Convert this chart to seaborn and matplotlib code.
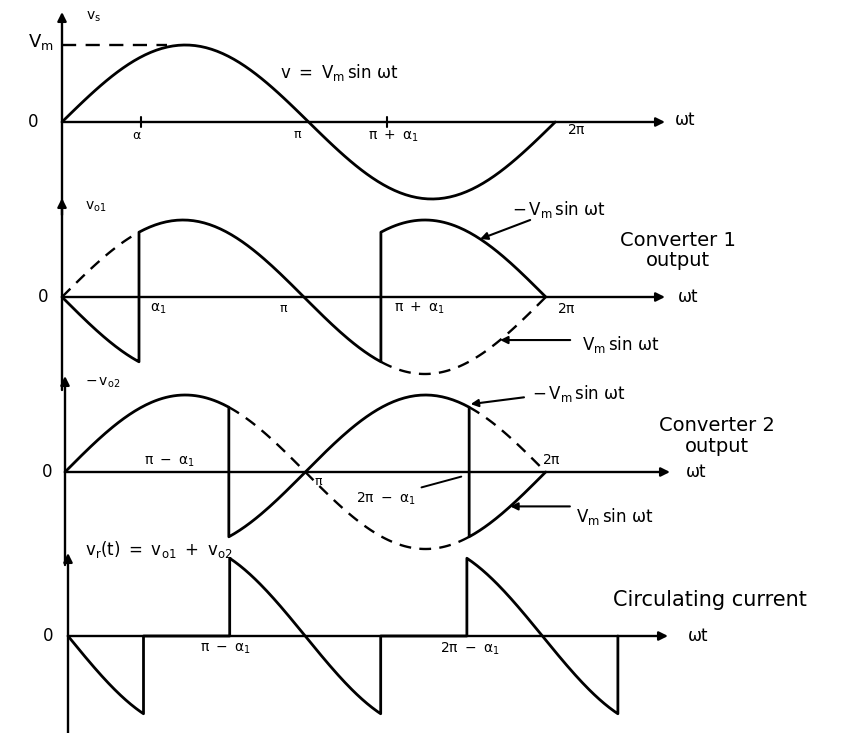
import numpy as np
import pandas as pd
import matplotlib
matplotlib.use("Agg")
import matplotlib.pyplot as plt
import seaborn as sns

PI = np.pi

# ---- waveform parameters -------------------------------------------------
VM = 1.0          # supply peak voltage Vm
ALPHA1 = 1.0      # firing angle α1 in rad
VR_PEAK = 1.2     # drawn amplitude of the circulating-voltage pulses (× Vm)

# Each section is (start ωt, end ωt, sign) of  sign · amplitude · sin ωt.
# Sections inside one trace are joined, so changes of sign become vertical steps.
SUPPLY_SOLID = [[(0.0, 2 * PI, 1)]]

CONV1_SOLID = [[(0.0, ALPHA1, -1), (ALPHA1, PI + ALPHA1, 1), (PI + ALPHA1, 2 * PI, -1)]]
CONV1_DASHED = [[(0.0, ALPHA1, 1)], [(PI + ALPHA1, 2 * PI, 1)]]

CONV2_SOLID = [[(0.0, PI - ALPHA1, 1), (PI - ALPHA1, 2 * PI - ALPHA1, -1),
                (2 * PI - ALPHA1, 2 * PI, 1)]]
CONV2_DASHED = [[(PI - ALPHA1, 2 * PI - ALPHA1, 1)], [(2 * PI - ALPHA1, 2 * PI, -1)]]

RIPPLE_SOLID = [[(0.0, ALPHA1, -1), (ALPHA1, PI - ALPHA1, 0), (PI - ALPHA1, PI + ALPHA1, 1),
                 (PI + ALPHA1, 2 * PI - ALPHA1, 0), (2 * PI - ALPHA1, 2 * PI + ALPHA1, -1),
                 (2 * PI + ALPHA1, 2 * PI + ALPHA1, 0)]]

# ---- figure geometry -----------------------------------------------------
W, H, DPI = 858, 733, 100
S = 77.0  # pixels per Vm

# origin x, px per rad, zero line y, panel top / bottom, arrow tip y, axis end x
PANELS = [
    dict(origin=62, ppr=78.5, zero=122, top=0, bottom=215, tip=12, xend=665),
    dict(origin=62, ppr=77.0, zero=297, top=190, bottom=390, tip=198, xend=665),
    dict(origin=65, ppr=76.5, zero=472, top=365, bottom=565, tip=376, xend=670),
    dict(origin=68, ppr=75.5, zero=636, top=545, bottom=733, tip=553, xend=668),
]

sns.set_theme(style="white")
plt.rcParams["font.family"] = ["DejaVu Sans"]
plt.rcParams["mathtext.fontset"] = "dejavusans"
plt.rcParams["mathtext.default"] = "regular"

fig = plt.figure(figsize=(W / DPI, H / DPI), dpi=DPI)
fig.patch.set_facecolor("white")

LW = 2.0
AX_LW = 1.7
DASH = (0, (5, 3.5))


def make_axes(spec):
    o, p, z, t, b = spec["origin"], spec["ppr"], spec["zero"], spec["top"], spec["bottom"]
    ax = fig.add_axes([0, 1 - b / H, 1, (b - t) / H])
    ax.set_xlim(-o / p, (W - o) / p)
    ax.set_ylim((z - b) / S, (z - t) / S)
    ax.set_axis_off()
    ax.patch.set_alpha(0)
    # horizontal ωt axis
    xend = (spec["xend"] - o) / p
    ax.annotate("", xy=(xend, 0), xytext=(0, 0),
                arrowprops=dict(arrowstyle="-|>", lw=AX_LW, color="black",
                                mutation_scale=13, shrinkA=0, shrinkB=0))
    # vertical voltage axis
    ytip = (z - spec["tip"]) / S
    ybot = (z - b) / S
    ax.annotate("", xy=(0, ytip), xytext=(0, ybot),
                arrowprops=dict(arrowstyle="-|>", lw=AX_LW, color="black",
                                mutation_scale=13, shrinkA=0, shrinkB=0))
    return ax


def traces_frame(traces, amp, n=90):
    rows = []
    for k, trace in enumerate(traces):
        for start, end, sign in trace:
            t = np.linspace(start, end, n)
            for ti in t:
                rows.append((k, ti, sign * amp * np.sin(ti)))
    return pd.DataFrame(rows, columns=["seg", "wt", "v"])


def draw(ax, traces, amp, dashed=False):
    df = traces_frame(traces, amp)
    sns.lineplot(data=df, x="wt", y="v", units="seg", estimator=None, sort=False,
                 color="black", lw=LW if not dashed else 1.7,
                 linestyle=DASH if dashed else "-", ax=ax, legend=False)
    ax.set_axis_off()


def label(ax, x, y, s, size=11, ha="center", va="center"):
    ax.text(x, y, s, fontsize=size, ha=ha, va=va, color="black")


def pointer(ax, tip, tail):
    ax.annotate("", xy=tip, xytext=tail,
                arrowprops=dict(arrowstyle="-|>", lw=1.5, color="black",
                                mutation_scale=11, shrinkA=0, shrinkB=0))


axes = [make_axes(s) for s in PANELS]

# ---- panel 1 : supply voltage ---------------------------------------------
ax = axes[0]
draw(ax, SUPPLY_SOLID, VM)
sns.lineplot(x=[0.0, PI / 2 * 0.85], y=[VM, VM], color="black", lw=1.7,
             linestyle=(0, (6, 4)), ax=ax, legend=False)
ax.set_axis_off()
for xt in (ALPHA1, PI + ALPHA1):
    ax.plot([xt, xt], [-0.06, 0.06], color="black", lw=1.5)
label(ax, -0.1, 1.04, "$V_m$", size=13, ha="right")
label(ax, 0.3, 1.36, "$v_s$", size=10, ha="left")
label(ax, -0.37, 0.0, "0", size=12)
label(ax, 2.78, 0.64, r"$v\ =\ V_m\,\sin\,\omega t$", size=12, ha="left")
label(ax, ALPHA1 - 0.05, -0.18, r"$\alpha$", size=9)
label(ax, PI - 0.14, -0.16, r"$\pi$", size=9)
label(ax, PI + ALPHA1 + 0.08, -0.19, r"$\pi\ +\ \alpha_1$", size=10)
label(ax, 2 * PI + 0.27, -0.11, r"$2\pi$", size=10)
label(ax, 7.8, 0.02, r"$\omega t$", size=12, ha="left")

# ---- panel 2 : converter 1 output ------------------------------------------
ax = axes[1]
draw(ax, CONV1_DASHED, VM, dashed=True)
draw(ax, CONV1_SOLID, VM)
label(ax, 0.3, 1.17, "$v_{o1}$", size=10, ha="left")
label(ax, -0.25, 0.0, "0", size=12)
label(ax, ALPHA1 + 0.25, -0.15, r"$\alpha_1$", size=10)
label(ax, PI - 0.27, -0.15, r"$\pi$", size=9)
label(ax, PI + ALPHA1 + 0.17, -0.15, r"$\pi\ +\ \alpha_1$", size=10, ha="left")
label(ax, 2 * PI + 0.27, -0.15, r"$2\pi$", size=10)
label(ax, 7.99, 0.0, r"$\omega t$", size=12, ha="left")
label(ax, 5.85, 1.13, r"$-\,V_m\,\sin\,\omega t$", size=12, ha="left")
pointer(ax, (5.43, -VM * np.sin(5.43)), (6.08, 1.0))
label(ax, 8.0, 0.74, "Converter 1", size=14)
label(ax, 8.0, 0.47, "output", size=14)
label(ax, 6.75, -0.62, r"$V_m\,\sin\,\omega t$", size=12, ha="left")
pointer(ax, (5.69, VM * np.sin(5.69)), (6.6, VM * np.sin(5.69)))

# ---- panel 3 : converter 2 output ------------------------------------------
ax = axes[2]
draw(ax, CONV2_DASHED, VM, dashed=True)
draw(ax, CONV2_SOLID, VM)
label(ax, 0.26, 1.16, r"$-\,v_{o2}$", size=10, ha="left")
label(ax, -0.24, 0.0, "0", size=12)
label(ax, PI - ALPHA1 - 0.77, 0.13, r"$\pi\ -\ \alpha_1$", size=10)
label(ax, PI + 0.17, -0.12, r"$\pi$", size=9)
label(ax, 3.8, -0.35, r"$2\pi\ -\ \alpha_1$", size=10, ha="left")
ax.plot([4.66, 5.18], [-0.2, -0.06], color="black", lw=1.4)
label(ax, 2 * PI + 0.08, 0.16, r"$2\pi$", size=10)
label(ax, 8.1, 0.0, r"$\omega t$", size=12, ha="left")
label(ax, 6.1, 1.02, r"$-\,V_m\,\sin\,\omega t$", size=12, ha="left")
pointer(ax, (2 * PI - ALPHA1 + 0.02, -VM * np.sin(2 * PI - ALPHA1) + 0.04), (6.0, 0.97))
label(ax, 8.52, 0.61, "Converter 2", size=14)
label(ax, 8.52, 0.33, "output", size=14)
label(ax, 6.68, -0.58, r"$V_m\,\sin\,\omega t$", size=12, ha="left")
pointer(ax, (5.82, VM * np.sin(5.82)), (6.6, VM * np.sin(5.82)))

# ---- panel 4 : ripple voltage driving the circulating current --------------
ax = axes[3]
draw(ax, RIPPLE_SOLID, VR_PEAK)
label(ax, 0.23, 1.12, r"$v_r(t)\ =\ v_{o1}\ +\ v_{o2}$", size=12, ha="left")
label(ax, -0.26, 0.0, "0", size=12)
label(ax, PI - ALPHA1 - 0.05, -0.16, r"$\pi\ -\ \alpha_1$", size=10)
label(ax, 2 * PI - ALPHA1 + 0.04, -0.17, r"$2\pi\ -\ \alpha_1$", size=10)
label(ax, 8.5, 0.47, "Circulating current", size=15)
label(ax, 8.2, 0.0, r"$\omega t$", size=12, ha="left")

fig.savefig("out.png", dpi=DPI, facecolor="white")
